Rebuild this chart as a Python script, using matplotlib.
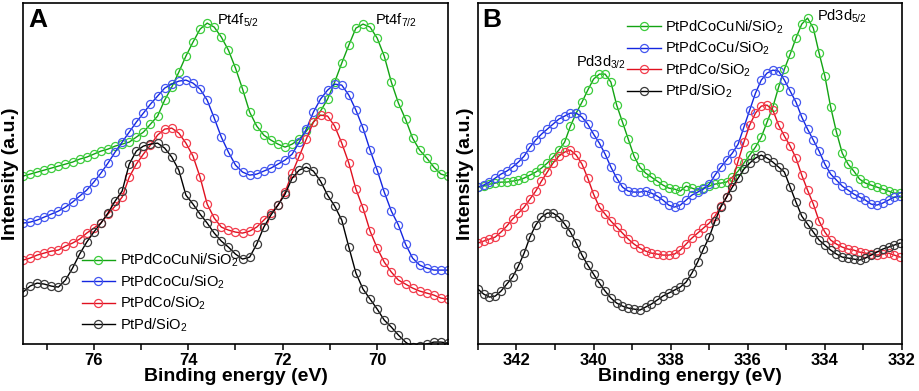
import numpy as np
import matplotlib
matplotlib.use("Agg")
import matplotlib.pyplot as plt
from matplotlib.ticker import MultipleLocator

plt.rcParams['font.family'] = ['Liberation Sans', 'DejaVu Sans']
plt.rcParams['mathtext.default'] = 'regular'

# binding energy grids (eV), read every 0.15 eV
energy_pt = np.round(77.5 - 0.15 * np.arange(61), 2)
energy_pd = np.round(343.0 - 0.15 * np.arange(74), 2)

labels = ['PtPdCoCuNi/SiO$_2$', 'PtPdCoCu/SiO$_2$', 'PtPdCo/SiO$_2$', 'PtPd/SiO$_2$']

# Pt 4f spectra (a.u.)
pt_ni = [168, 170, 172, 174, 176, 178, 180, 182, 185, 187,
         190, 193, 195, 198, 200, 202, 207, 212, 220, 228,
         244, 257, 272, 288, 302, 315, 321, 317, 307, 294,
         276, 255, 232, 218, 209, 204, 200, 197, 200, 205,
         213, 222, 233, 245, 262, 281, 299, 316, 320, 317,
         306, 288, 262, 241, 225, 206, 194, 186, 177, 170,
         168]
pt_cu = [121, 122, 124, 127, 130, 133, 137, 142, 148, 154,
         162, 171, 181, 192, 202, 212, 222, 231, 240, 248,
         256, 260, 263, 264, 261, 255, 244, 226, 207, 192,
         179, 172, 169, 170, 173, 176, 180, 184, 190, 202,
         215, 232, 245, 254, 260, 259, 249, 234, 216, 194,
         174, 152, 133, 119, 100, 86, 79, 76, 74, 74,
         74]
pt_co = [84, 86, 89, 91, 93, 94, 98, 101, 105, 111,
         116, 121, 130, 138, 147, 167, 180, 190, 199, 209,
         215, 216, 211, 201, 188, 167, 140, 126, 117, 114,
         112, 111, 113, 117, 124, 131, 139, 152, 171, 188,
         205, 222, 229, 228, 218, 201, 181, 155, 136, 113,
         96, 82, 72, 64, 60, 56, 53, 51, 49, 46,
         45]
pt_pd = [52, 58, 61, 60, 58, 57, 64, 76, 90, 102,
         112, 121, 131, 143, 153, 180, 193, 198, 200, 201,
         196, 187, 174, 149, 140, 130, 121, 111, 103, 97,
         90, 85, 87, 100, 117, 129, 139, 150, 166, 174,
         177, 173, 163, 149, 138, 124, 97, 71, 55, 45,
         35, 24, 17, 9, 2, -3, -2, 0, 2, 2,
         1]

# Pd 3d spectra (a.u.)
pd_ni = [157, 158, 160, 161, 162, 162, 163, 164, 166, 169,
         172, 176, 181, 187, 194, 202, 218, 231, 242, 254,
         265, 270, 270, 262, 239, 222, 205, 188, 177, 171,
         167, 163, 159, 156, 155, 153, 158, 156, 154, 156,
         158, 160, 161, 162, 167, 173, 181, 189, 197, 207,
         222, 237, 257, 275, 290, 306, 320, 326, 316, 291,
         268, 237, 212, 191, 180, 173, 165, 161, 159, 157,
         155, 153, 151, 151]
pd_cu = [157, 159, 162, 166, 170, 173, 177, 182, 188, 197,
         204, 210, 215, 220, 225, 228, 231, 231, 227, 220,
         210, 201, 190, 177, 166, 157, 153, 152, 152, 153,
         151, 148, 144, 139, 137, 139, 144, 149, 152, 155,
         160, 169, 177, 184, 191, 200, 217, 234, 251, 264,
         271, 274, 273, 264, 253, 242, 227, 215, 204, 193,
         180, 170, 164, 158, 154, 150, 147, 144, 140, 139,
         141, 144, 147, 148]
pd_co = [101, 103, 105, 107, 112, 118, 125, 131, 137, 145,
         153, 163, 172, 181, 188, 192, 194, 189, 180, 166,
         150, 137, 130, 123, 117, 111, 105, 100, 96, 93,
         91, 90, 89, 89, 90, 94, 100, 106, 111, 116,
         121, 128, 138, 147, 163, 183, 202, 219, 231, 238,
         239, 234, 219, 208, 198, 186, 169, 154, 140, 123,
         112, 104, 100, 97, 95, 94, 92, 91, 90, 89,
         90, 91, 89, 87]
pd_pd = [55, 50, 47, 48, 53, 60, 67, 78, 91, 107,
         119, 127, 131, 131, 127, 120, 112, 101, 89, 79,
         70, 61, 53, 46, 41, 38, 36, 35, 34, 37,
         40, 44, 48, 51, 54, 57, 62, 71, 82, 95,
         107, 123, 137, 147, 157, 166, 175, 181, 186, 189,
         186, 182, 177, 172, 157, 142, 128, 120, 112, 104,
         99, 94, 90, 87, 86, 85, 84, 86, 89, 92,
         95, 97, 99, 101]

line_cols = ['#13a313', '#1426e0', '#e0101f', '#000000']
mark_cols = ['#3ccc3c', '#4457f0', '#f23c4c', '#3a3a3a']

fig = plt.figure(figsize=(9.19, 3.91), dpi=100)
axA = fig.add_axes([0.025, 0.120, 0.4625, 0.872])
axB = fig.add_axes([0.520, 0.120, 0.4615, 0.872])


def draw(ax, x, series):
    for y, lc, mc, lab in zip(series, line_cols, mark_cols, labels):
        ax.plot(x, y, '-o', color=lc, lw=1.0, ms=5.8, mfc='none', mec=mc,
                mew=0.9, label=lab)
    ax.set_ylim(0, 341)
    ax.set_yticks([])
    ax.xaxis.set_major_locator(MultipleLocator(2))
    ax.xaxis.set_minor_locator(MultipleLocator(1))
    ax.tick_params(axis='x', which='both', direction='out', length=4, width=1.1,
                   labelsize=12, pad=2.5)
    for s in ax.spines.values():
        s.set_linewidth(1.2)
    ax.set_xlabel('Binding energy (eV)', fontsize=14, fontweight='bold', labelpad=0)
    ax.set_ylabel('Intensity (a.u.)', fontsize=14, fontweight='bold', labelpad=3)


def legend(ax, loc, anchor):
    ax.legend(loc=loc, bbox_to_anchor=anchor, frameon=False, fontsize=10.5,
              handlelength=2.3, handletextpad=0.3, labelspacing=0.28,
              borderpad=0, borderaxespad=0)


draw(axA, energy_pt, [pt_ni, pt_cu, pt_co, pt_pd])
axA.set_xlim(77.5, 68.5)
for t in axA.get_xticklabels():
    t.set_fontweight('bold')
axA.text(0.012, 0.985, 'A', transform=axA.transAxes, fontsize=19, fontweight='bold',
         va='top', ha='left')
axA.text(73.4, 324, 'Pt4f$_{5/2}$', fontsize=10.5, ha='left', va='center')
axA.text(70.05, 324, 'Pt4f$_{7/2}$', fontsize=10.5, ha='left', va='center')
legend(axA, 'lower left', (0.138, 0.03))

draw(axB, energy_pd, [pd_ni, pd_cu, pd_co, pd_pd])
axB.set_xlim(343, 332)
for t in axB.get_xticklabels():
    t.set_fontweight('bold')
axB.text(0.01, 0.985, 'B', transform=axB.transAxes, fontsize=19, fontweight='bold',
         va='top', ha='left')
axB.text(340.45, 282, 'Pd3d$_{3/2}$', fontsize=10.5, ha='left', va='center')
axB.text(334.2, 328, 'Pd3d$_{5/2}$', fontsize=10.5, ha='left', va='center')
legend(axB, 'upper left', (0.352, 0.955))

fig.savefig('out.png', dpi=100)
